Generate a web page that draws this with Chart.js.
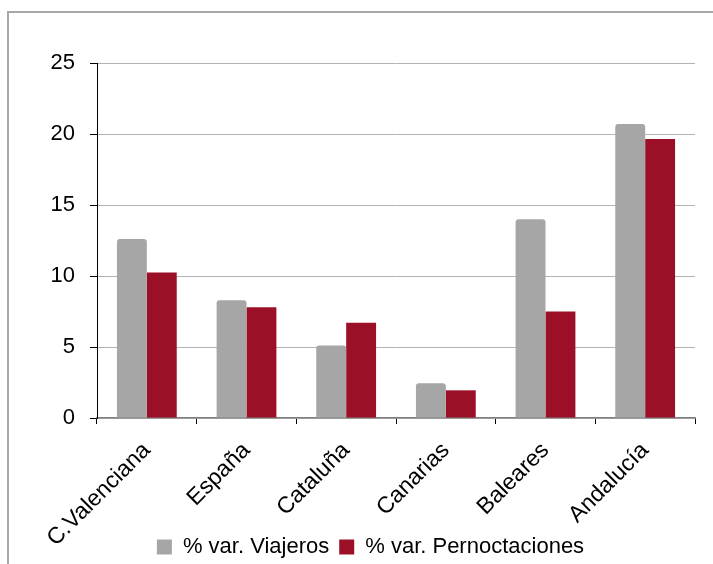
<!DOCTYPE html>
<html lang="es">
  <head>
    <meta charset="UTF-8" />
    <title>Viajeros y pernoctaciones</title>
    <script src="https://cdn.jsdelivr.net/npm/chart.js"></script>
    <style>
      body {
        margin: 0;
        padding: 0;
        background-color: #fff;
        overflow: hidden;
        font-family: "Liberation Sans", Arial, sans-serif;
      }

      #chart {
        position: absolute;
        left: 0;
        top: 0;
      }

      .frame {
        position: absolute;
        left: 7px;
        top: 11px;
        width: 800px;
        height: 700px;
        border: 2px solid #a8a8a8;
        pointer-events: none;
      }
    </style>
  </head>
  <body>
    <canvas id="chart" width="713" height="564"></canvas>
    <div class="frame"></div>

    <script>
      const regions = ["C.Valenciana", "España", "Cataluña", "Canarias", "Baleares", "Andalucía"];
      const viajeros = [12.6, 8.3, 5.1, 2.45, 14.0, 20.7];
      const pernoctaciones = [10.25, 7.8, 6.7, 1.95, 7.5, 19.65];
      const seriesNames = ["% var. Viajeros", "% var. Pernoctaciones"];

      const font = "'Liberation Sans', Arial, sans-serif";

      // rotated labels run down beside the legend, so let them draw past the axis box
      const labelRoom = {
        id: "labelRoom",
        afterLayout(chart) {
          chart.scales.x.bottom = chart.height;
        },
      };

      new Chart(document.getElementById("chart"), {
        type: "bar",
        data: {
          labels: regions,
          datasets: [
            {
              label: seriesNames[0],
              data: viajeros,
              backgroundColor: "#a6a6a6",
              borderRadius: { topLeft: 3, topRight: 3 },
              borderSkipped: "bottom",
            },
            {
              label: seriesNames[1],
              data: pernoctaciones,
              backgroundColor: "#9b1026",
            },
          ],
        },
        options: {
          responsive: false,
          animation: false,
          devicePixelRatio: 1,
          categoryPercentage: 0.6,
          barPercentage: 1.0,
          layout: {
            padding: { left: 46, right: 18, top: 63, bottom: -4 },
          },
          plugins: {
            tooltip: { enabled: false },
            legend: {
              position: "bottom",
              labels: {
                boxWidth: 15,
                boxHeight: 15,
                padding: 10,
                color: "#000",
                font: { family: font, size: 22 },
              },
            },
          },
          scales: {
            x: {
              afterFit: (scale) => {
                scale.height = 108;
              },
              border: { color: "#808080", width: 1.5 },
              grid: {
                drawOnChartArea: false,
                tickLength: 6,
                tickColor: "#000",
              },
              ticks: {
                minRotation: 45,
                maxRotation: 45,
                padding: 13,
                color: "#000",
                font: { family: font, size: 23 },
              },
            },
            y: {
              min: 0,
              max: 25,
              afterFit: (scale) => {
                scale.width = 51;
              },
              border: { color: "#000", width: 1 },
              grid: {
                color: "#b4b4b4",
                borderDash: [1, 1],
                tickBorderDash: [1, 0],
                tickColor: "#000",
                tickLength: 7,
              },
              ticks: {
                stepSize: 5,
                padding: 15,
                color: "#000",
                font: { family: font, size: 22 },
              },
            },
          },
        },
        plugins: [labelRoom],
      });
    </script>
  </body>
</html>
